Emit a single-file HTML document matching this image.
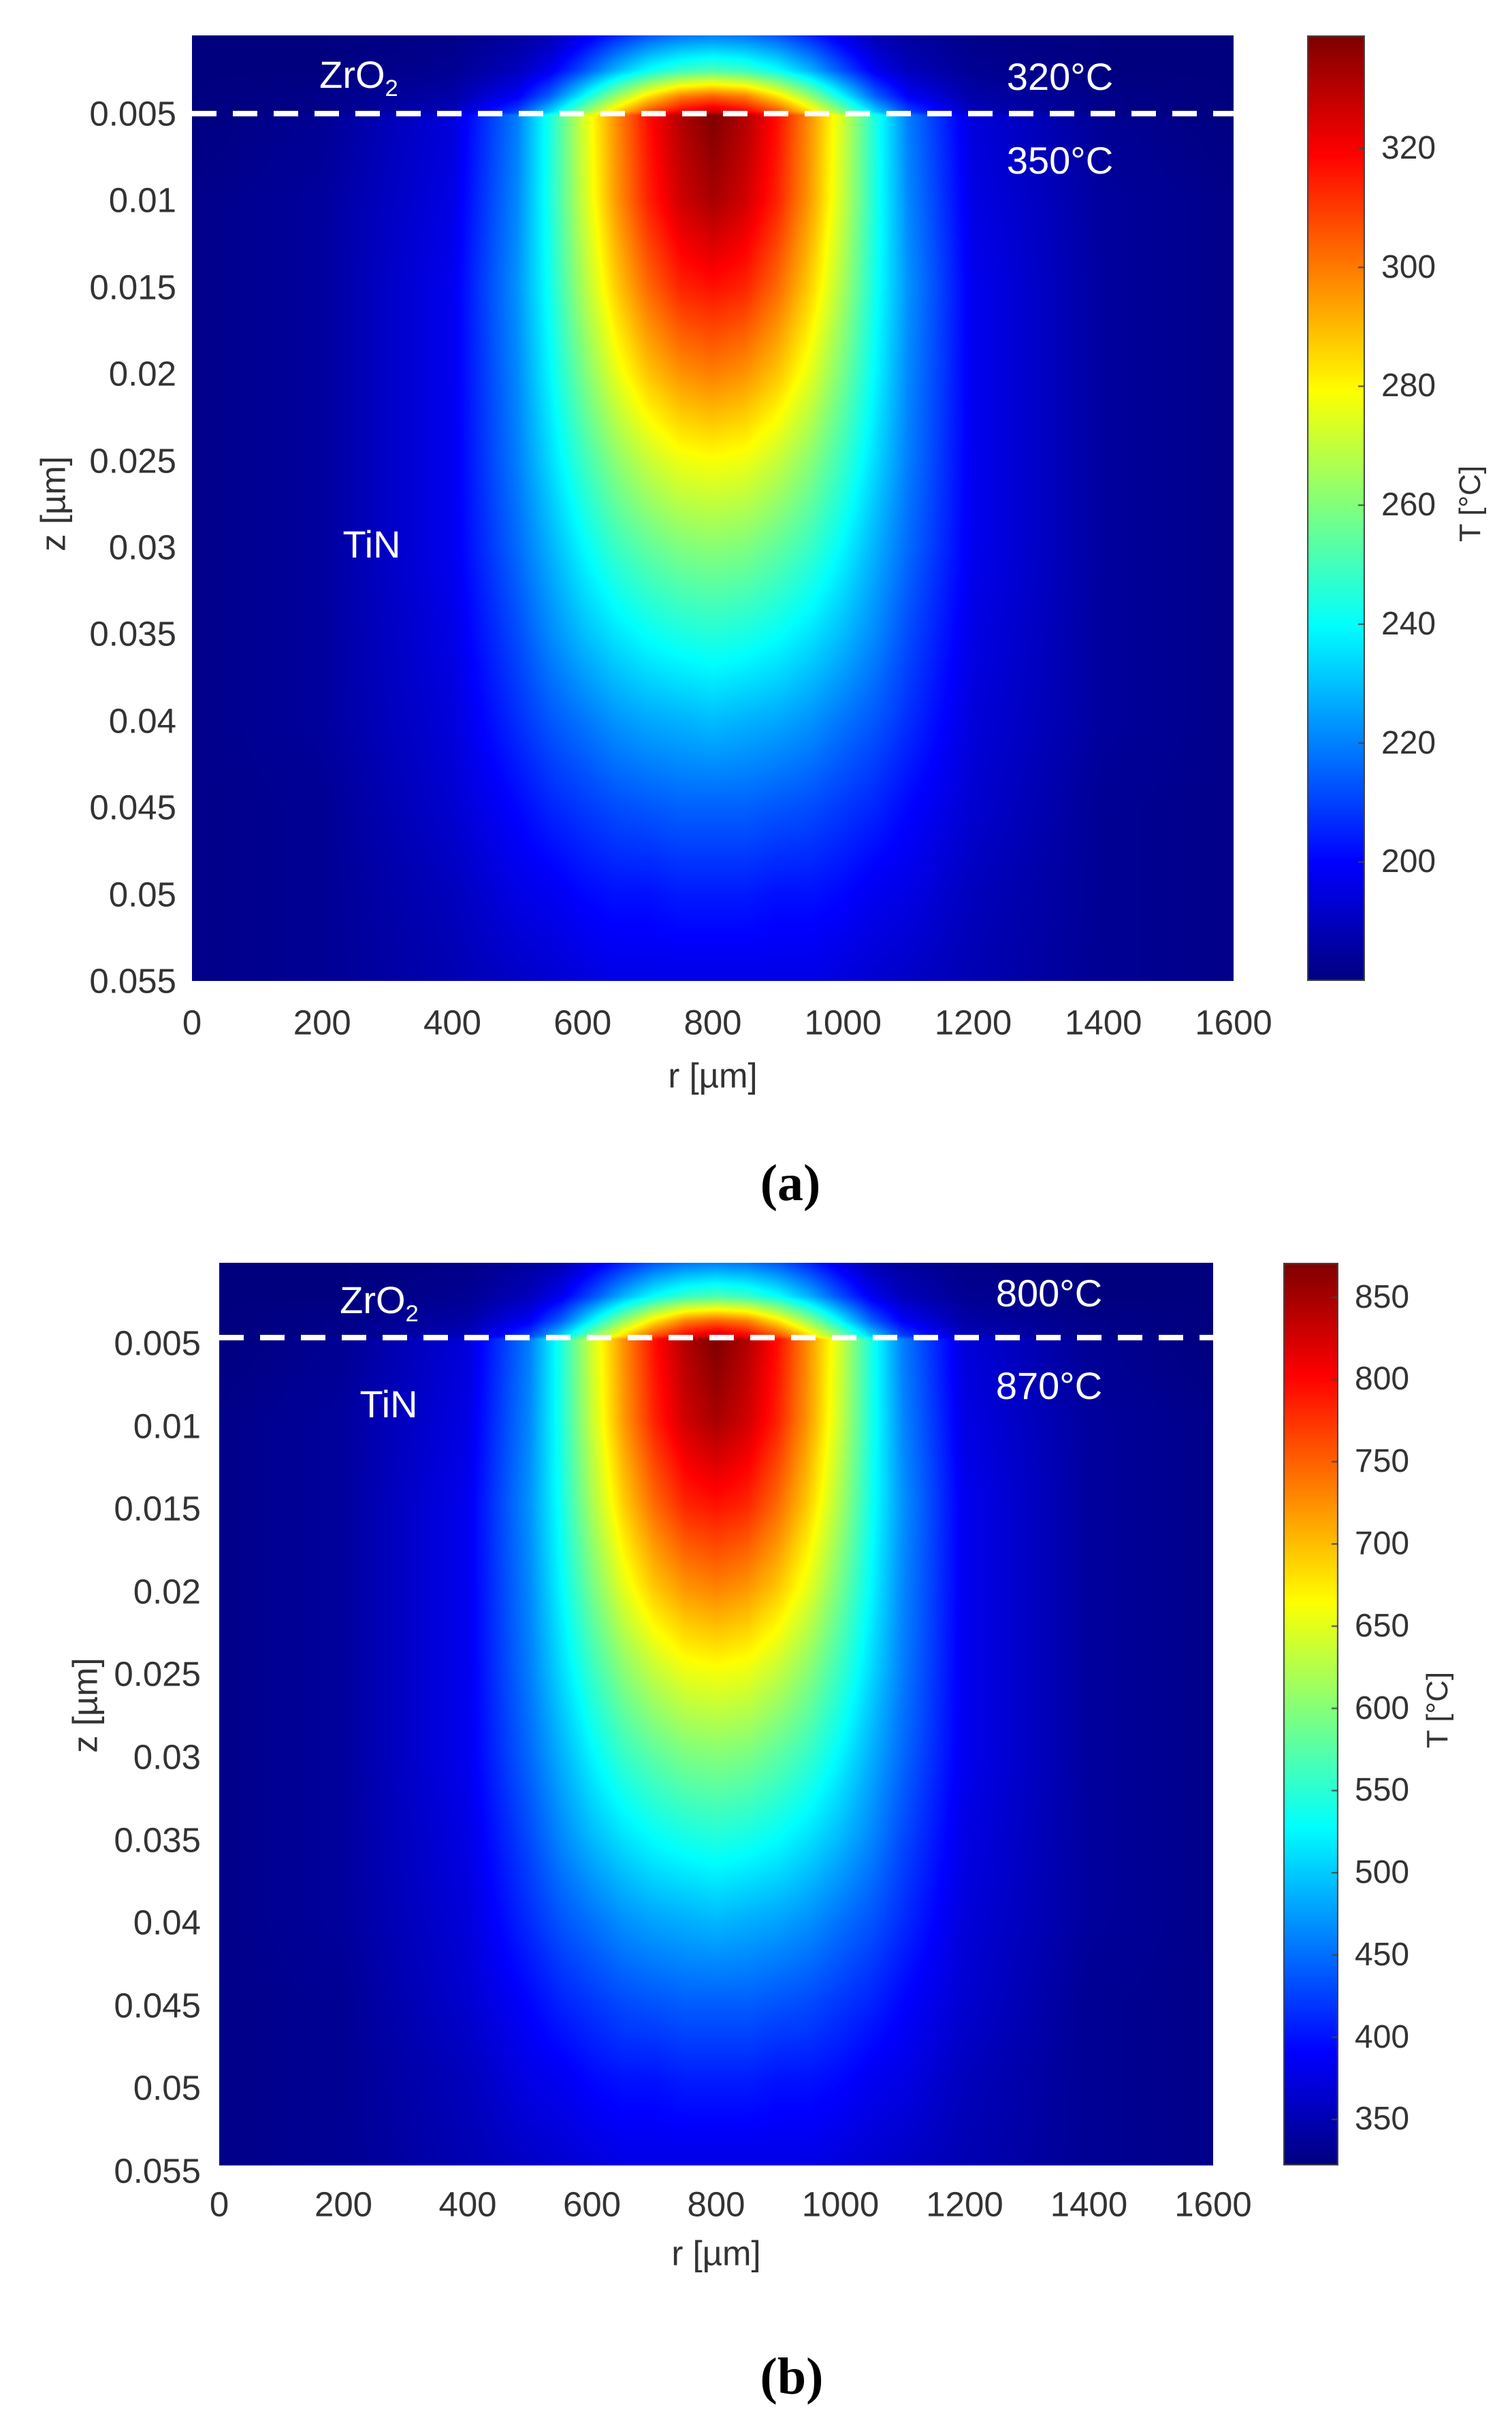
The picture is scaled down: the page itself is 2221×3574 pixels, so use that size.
<!DOCTYPE html>
<html><head><meta charset="utf-8">
<style>
html,body{margin:0;padding:0;background:#fff;}
body{width:2221px;height:3574px;position:relative;overflow:hidden;font-family:"Liberation Sans",sans-serif;}
.t{position:absolute;white-space:nowrap;color:#333;font-size:51px;line-height:1;}
.ann{position:absolute;white-space:nowrap;color:#fff;font-size:56px;line-height:1;transform:translate(-50%,-50%);}
canvas{position:absolute;display:block;}
.cap{position:absolute;font-family:"Liberation Serif",serif;font-weight:bold;font-size:76px;line-height:1;transform:translate(-50%,-50%);color:#000;}
</style></head>
<body>
<div id="panel-a"></div>
<div id="panel-b"></div>
<script>
// Normalized temperature field (0 = colour-scale minimum, 1 = maximum).
// Rows: depth z [µm]; columns: radial distance from beam centre |r-800| [µm] (axisymmetric).
const fieldZ = [0.0005, 0.0025, 0.0040, 0.0049, 0.0051, 0.010, 0.015, 0.020, 0.025, 0.030, 0.035, 0.040, 0.045, 0.050, 0.055];
const fieldD = [0, 50, 100, 150, 200, 250, 300, 400, 600, 800];
const fieldFrac = [
 [.25,.24,.21,.16,.10,.05,.03,.01,0,0],
 [.45,.43,.38,.30,.20,.11,.06,.02,0,0],
 [.78,.75,.65,.52,.37,.22,.12,.04,.01,0],
 [.92,.88,.80,.66,.50,.33,.19,.06,.01,0],
 [1.0,.95,.86,.73,.58,.40,.25,.09,.02,0],
 [.96,.92,.84,.72,.57,.40,.26,.10,.03,.01],
 [.86,.84,.77,.67,.54,.39,.27,.11,.03,.01],
 [.75,.73,.68,.60,.49,.37,.26,.11,.03,.01],
 [.62,.61,.57,.51,.43,.34,.25,.11,.03,.01],
 [.51,.50,.47,.43,.37,.30,.23,.11,.03,.01],
 [.41,.40,.38,.35,.31,.26,.20,.10,.03,.01],
 [.31,.30,.29,.27,.24,.21,.17,.09,.03,.01],
 [.22,.22,.21,.20,.18,.16,.13,.08,.02,.01],
 [.15,.15,.14,.14,.13,.11,.10,.06,.02,.01],
 [.10,.10,.10,.10,.09,.08,.07,.05,.02,.01]
];
const beamCenter = 800;
const xTicks = [0,200,400,600,800,1000,1200,1400,1600];
const yTicks = [0.005,0.01,0.015,0.02,0.025,0.03,0.035,0.04,0.045,0.05,0.055];
const yTickLabels = ["0.005","0.01","0.015","0.02","0.025","0.03","0.035","0.04","0.045","0.05","0.055"];
const cbTicksA = [200,220,240,260,280,300,320];
const cbTicksB = [350,400,450,500,550,600,650,700,750,800,850];
const tempRangeA = [180, 339];
const tempRangeB = [322, 871];
const interfaceZ = 0.005;
const annA = ["320°C","350°C"];
const annB = ["800°C","870°C"];

function jet(t){
  t=Math.max(0,Math.min(1,t));
  const f=(x)=>Math.max(0,Math.min(1,x));
  const r=f(1.5-Math.abs(4*t-3)), g=f(1.5-Math.abs(4*t-2)), b=f(1.5-Math.abs(4*t-1));
  return [r*255|0,g*255|0,b*255|0];
}
function idx(arr,v){
  if(v<=arr[0]) return [0,0];
  for(let i=0;i<arr.length-1;i++){ if(v<=arr[i+1]) return [i,(v-arr[i])/(arr[i+1]-arr[i])]; }
  return [arr.length-2,1];
}
function sample(r,z){
  const d=Math.abs(r-beamCenter);
  const [i,fz]=idx(fieldZ,z), [j,fd]=idx(fieldD,d);
  const a=fieldFrac[i][j]*(1-fd)+fieldFrac[i][j+1]*fd;
  const b=fieldFrac[i+1][j]*(1-fd)+fieldFrac[i+1][j+1]*fd;
  return a*(1-fz)+b*fz;
}
function el(tag,cls,parent){const e=document.createElement(tag);if(cls)e.className=cls;parent.appendChild(e);return e;}

function buildPanel(host, L){
  const W=L.x1-L.x0, H=L.y1-L.y0;
  const xs=v=>L.x0+(v-0)/(1600-0)*W;
  const zs=v=>L.y0+(v-L.zTop)/(0.055-L.zTop)*H;
  const cv=el('canvas','',host);
  
  
  cv.width=W;cv.height=H;cv.style.left=L.x0+'px';cv.style.top=L.y0+'px';
  const ctx=cv.getContext('2d');const img=ctx.createImageData(W,H);
  for(let py=0;py<H;py++){
    const z=L.zTop+(py+0.5)/H*(0.055-L.zTop);
    for(let px=0;px<W;px++){
      const r=(px+0.5)/W*1600;
      const c=jet(sample(r,z));const k=(py*W+px)*4;
      img.data[k]=c[0];img.data[k+1]=c[1];img.data[k+2]=c[2];img.data[k+3]=255;
    }
  }
  ctx.putImageData(img,0,0);
  const svgNS='http://www.w3.org/2000/svg';
  const svg=document.createElementNS(svgNS,'svg');
  svg.setAttribute('width',2221);svg.setAttribute('height',3574);
  svg.style.position='absolute';svg.style.left='0';svg.style.top='0';
  host.appendChild(svg);
  const ln=document.createElementNS(svgNS,'line');
  
  
  ln.setAttribute('x1',L.x0);ln.setAttribute('x2',L.x1);
  ln.setAttribute('y1',zs(interfaceZ));ln.setAttribute('y2',zs(interfaceZ));
  ln.setAttribute('stroke','#fff');ln.setAttribute('stroke-width','8');ln.setAttribute('stroke-dasharray','36 24');
  svg.appendChild(ln);
  xTicks.forEach(v=>{
    const t=el('div','t',host);
    
    
    t.textContent=v;t.style.left=xs(v)+'px';t.style.top=L.xLabY+'px';t.style.transform='translate(-50%,-50%)';
  });
  yTicks.forEach((v,i)=>{
    const t=el('div','t',host);
    
    
    t.textContent=yTickLabels[i];t.style.right=(2221-L.yLabR)+'px';t.style.top=(zs(v)+L.yOff)+'px';t.style.transform='translateY(-50%)';
  });
  const xt=el('div','t',host);
  
  
  xt.textContent='r [µm]';xt.style.left=((L.x0+L.x1)/2)+'px';xt.style.top=L.xTitleY+'px';xt.style.transform='translate(-50%,-50%)';
  const yt=el('div','t',host);
  
  
  yt.textContent='z [µm]';yt.style.left=L.yTitleX+'px';yt.style.top=L.yTitleY+'px';yt.style.transform='translate(-50%,-50%) rotate(-90deg)';
  const cb=el('canvas','',host);
  
  
  const cw=L.cb1-L.cb0, ch=L.y1-L.y0;
  cb.width=cw;cb.height=ch;cb.style.left=L.cb0+'px';cb.style.top=L.y0+'px';
  const c2=cb.getContext('2d');
  for(let py=0;py<ch;py++){const c=jet(1-(py+0.5)/ch);c2.fillStyle=`rgb(${c[0]},${c[1]},${c[2]})`;c2.fillRect(0,py,cw,1);}
  c2.strokeStyle='#444';c2.lineWidth=2;c2.strokeRect(1,1,cw-2,ch-2);
  const ts=v=>L.y1-(v-L.range[0])/(L.range[1]-L.range[0])*ch;
  L.cbTicks.forEach(v=>{
    const y=ts(v)-L.y0;
    c2.beginPath();c2.moveTo(cw-10,y);c2.lineTo(cw,y);c2.stroke();
    const t=el('div','t',host);
    
    
    t.textContent=v;t.style.left=(L.cb1+24)+'px';t.style.top=ts(v)+'px';t.style.transform='translateY(-50%)';t.style.fontSize='48px';
  });
  const ct=el('div','t',host);
  
  
  ct.textContent='T [°C]';ct.style.fontSize='44px';ct.style.left=L.cbTitleX+'px';ct.style.top=L.cbTitleY+'px';ct.style.transform='translate(-50%,-50%) rotate(-90deg)';
  L.ann.forEach(a=>{
    const t=el('div','ann',host);
    
    
    t.innerHTML=a.html;t.style.left=a.x+'px';t.style.top=a.y+'px';
  });
  const cap=el('div','cap',host);
  
  
  cap.textContent=L.caption;cap.style.left=L.capX+'px';cap.style.top=L.capY+'px';
}
const sub='ZrO<span style="font-size:0.62em;position:relative;top:0.35em">2</span>';
buildPanel(document.getElementById('panel-a'),{
  x0:282,x1:1812,y0:52,y1:1441,zTop:0.00049,xLabY:1502,yLabR:259,yOff:0,xTitleY:1580,yTitleX:78,yTitleY:740,
  cb0:1920,cb1:2005,range:tempRangeA,cbTicks:cbTicksA,cbTitleX:2160,cbTitleY:740,
  ann:[{name:'zro2-label',html:sub,x:527,y:110},{name:'tin-label',html:'TiN',x:546,y:800},
       {name:'top-temp-label',html:annA[0],x:1557,y:113},{name:'interface-temp-label',html:annA[1],x:1557,y:236}],
  caption:'(a)',capX:1161,capY:1738
});
buildPanel(document.getElementById('panel-b'),{
  x0:322,x1:1782,y0:1855,y1:3181,zTop:0.00048,xLabY:3238,yLabR:295,yOff:8,xTitleY:3310,yTitleX:125,yTitleY:2505,
  cb0:1885,cb1:1966,range:tempRangeB,cbTicks:cbTicksB,cbTitleX:2112,cbTitleY:2512,
  ann:[{name:'zro2-label',html:sub,x:557,y:1910},{name:'tin-label',html:'TiN',x:571,y:2063},
       {name:'top-temp-label',html:annB[0],x:1541,y:1900},{name:'interface-temp-label',html:annB[1],x:1541,y:2036}],
  caption:'(b)',capX:1163,capY:3491
});
</script>
</body></html>
